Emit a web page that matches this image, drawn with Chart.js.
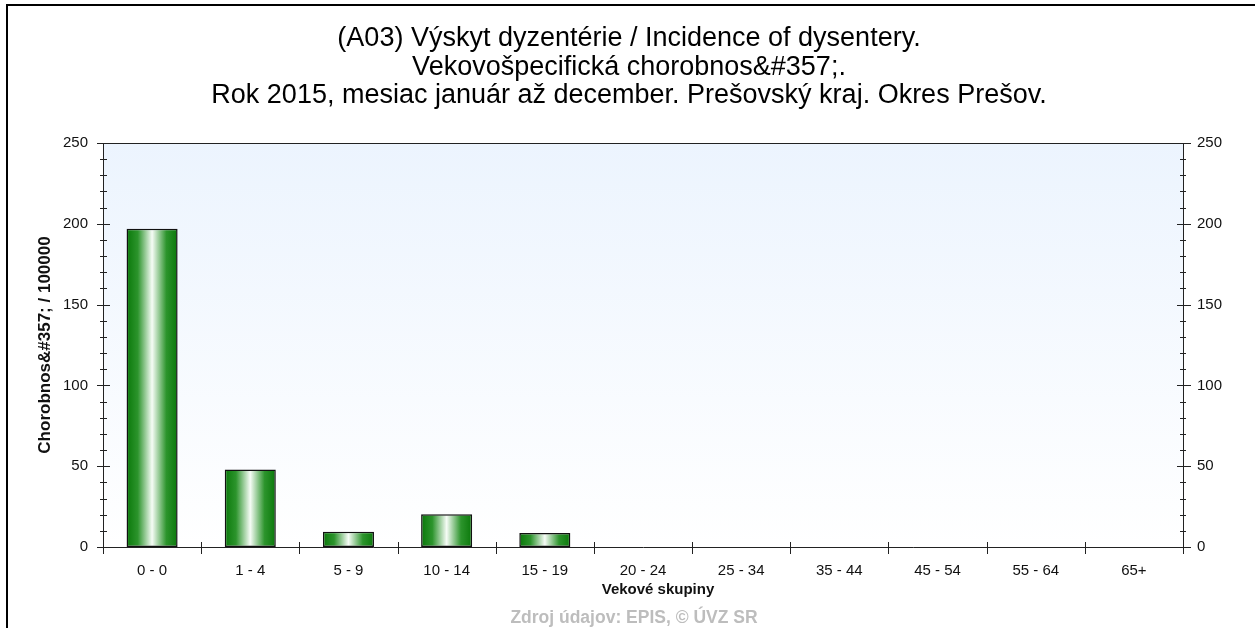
<!DOCTYPE html>
<html>
<head>
<meta charset="utf-8">
<script src="https://cdn.jsdelivr.net/npm/chart.js@4"></script>
<style>
  html, body { margin: 0; padding: 0; background: #fff; }
</style>
</head>
<body>
<canvas id="myChart" width="1255" height="628"></canvas>
<script>
const ageGroups = ['0 - 0', '1 - 4', '5 - 9', '10 - 14', '15 - 19', '20 - 24', '25 - 34', '35 - 44', '45 - 54', '55 - 64', '65+'];
const incidence = [197, 48, 9.5, 20.3, 8.7, 0, 0, 0, 0, 0, 0];
const yTicks = [0, 50, 100, 150, 200, 250];

const titleLines = [
  '(A03) Výskyt dyzentérie / Incidence of dysentery.',
  'Vekovošpecifická chorobnos&#357;.',
  'Rok 2015, mesiac január až december. Prešovský kraj. Okres Prešov.'
];
const yTitle = 'Chorobnos&#357; / 100000';
const xTitle = 'Vekové skupiny';
const sourceText = 'Zdroj údajov: EPIS, © ÚVZ SR';

const font = '"Liberation Sans", Arial, sans-serif';
const barPct = 0.52;

// zelený gradient pre každý stĺpec
function barFill(context) {
  const chart = context.chart;
  const x = chart.scales.x;
  if (!x || context.dataIndex === undefined) return '#1a8a1a';
  const c = x.getPixelForValue(context.dataIndex);
  const w = (x.width / ageGroups.length) * barPct;
  if (!isFinite(c) || !isFinite(w) || w <= 0) return '#1a8a1a';
  const g = chart.ctx.createLinearGradient(c - w / 2, 0, c + w / 2, 0);
  g.addColorStop(0, '#0a780a');
  g.addColorStop(0.22, '#2c942c');
  g.addColorStop(0.5, '#f6fcf6');
  g.addColorStop(0.78, '#2c942c');
  g.addColorStop(1, '#0a780a');
  return g;
}

const decor = {
  id: 'decor',
  beforeDraw(chart) {
    const ctx = chart.ctx;
    const a = chart.chartArea;
    ctx.save();
    const g = ctx.createLinearGradient(0, a.top, 0, a.bottom);
    g.addColorStop(0, '#ecf4fe');
    g.addColorStop(1, '#ffffff');
    ctx.fillStyle = g;
    ctx.fillRect(a.left, a.top, a.right - a.left, a.bottom - a.top);
    ctx.restore();
  },
  afterDraw(chart) {
    const ctx = chart.ctx;
    const a = chart.chartArea;
    const x = chart.scales.x;
    const y = chart.scales.y;
    ctx.save();
    // ram obrázka
    ctx.strokeStyle = '#000';
    ctx.lineWidth = 2;
    ctx.beginPath();
    ctx.moveTo(1255, 5);
    ctx.lineTo(7, 5);
    ctx.lineTo(7, 628);
    ctx.stroke();

    ctx.lineWidth = 1;
    ctx.strokeStyle = '#222';
    ctx.beginPath();
    ctx.moveTo(a.left, a.top + 0.5);
    ctx.lineTo(a.right, a.top + 0.5);
    // ciarky na osiach y
    for (let v = 0; v <= 250; v += 10) {
      const py = Math.round(y.getPixelForValue(v)) + 0.5;
      const major = v % 50 === 0;
      if (major) {
        ctx.moveTo(a.left - 6, py); ctx.lineTo(a.left + 7, py);
        ctx.moveTo(a.right - 6, py); ctx.lineTo(a.right + 8, py);
      } else {
        ctx.moveTo(a.left - 3, py); ctx.lineTo(a.left + 4, py);
        ctx.moveTo(a.right - 3, py); ctx.lineTo(a.right + 3, py);
      }
    }
    // ciarky na osi x medzi skupinami
    for (let i = 0; i <= ageGroups.length; i++) {
      const px = Math.round(a.left + i * x.width / ageGroups.length) + 0.5;
      ctx.moveTo(px, a.bottom - 5);
      ctx.lineTo(px, a.bottom + 7);
    }
    ctx.stroke();

    // texty
    ctx.fillStyle = '#000';
    ctx.textAlign = 'center';
    ctx.textBaseline = 'middle';
    ctx.font = '27px ' + font;
    titleLines.forEach((t, i) => ctx.fillText(t, 629, 39 + i * 28.5));

    ctx.font = 'bold 15px ' + font;
    ctx.fillStyle = '#111';
    ctx.fillText(xTitle, 658, 590);
    ctx.fillStyle = '#bdbdbd';
    ctx.font = 'bold 17.5px ' + font;
    ctx.fillText(sourceText, 634, 618);

    ctx.save();
    ctx.translate(45, (a.top + a.bottom) / 2);
    ctx.rotate(-Math.PI / 2);
    ctx.fillStyle = '#111';
    ctx.font = 'bold 17px ' + font;
    ctx.fillText(yTitle, 0, 0);
    ctx.restore();
    ctx.restore();
  }
};

const tickFont = { family: font, size: 15 };

new Chart(document.getElementById('myChart'), {
  type: 'bar',
  data: {
    labels: ageGroups,
    datasets: [{
      data: incidence,
      backgroundColor: barFill,
      borderColor: '#111',
      borderWidth: 1.5,
      borderSkipped: false,
      barPercentage: barPct,
      categoryPercentage: 1
    }]
  },
  options: {
    responsive: false,
    animation: false,
    devicePixelRatio: 1,
    layout: { padding: { top: 143, bottom: 41, left: 0, right: 0 } },
    plugins: { legend: { display: false }, tooltip: { enabled: false } },
    scales: {
      x: {
        grid: { display: false, drawTicks: false },
        border: { display: true, color: '#222', width: 1 },
        ticks: { color: '#111', font: tickFont, padding: 15, maxRotation: 0, autoSkip: false },
        afterFit(s) { s.height = 40; }
      },
      y: {
        position: 'left',
        min: 0, max: 250,
        grid: { display: false, drawTicks: false },
        border: { display: true, color: '#222', width: 1 },
        ticks: { color: '#111', font: tickFont, padding: 15, stepSize: 50 },
        afterBuildTicks(s) { s.ticks = yTicks.map(v => ({ value: v })); },
        afterFit(s) { s.width = 103; }
      },
      y2: {
        position: 'right',
        min: 0, max: 250,
        grid: { display: false, drawTicks: false },
        border: { display: true, color: '#222', width: 1 },
        ticks: { color: '#111', font: tickFont, padding: 14, stepSize: 50 },
        afterBuildTicks(s) { s.ticks = yTicks.map(v => ({ value: v })); },
        afterFit(s) { s.width = 72; }
      }
    }
  },
  plugins: [decor]
});
</script>
</body>
</html>
